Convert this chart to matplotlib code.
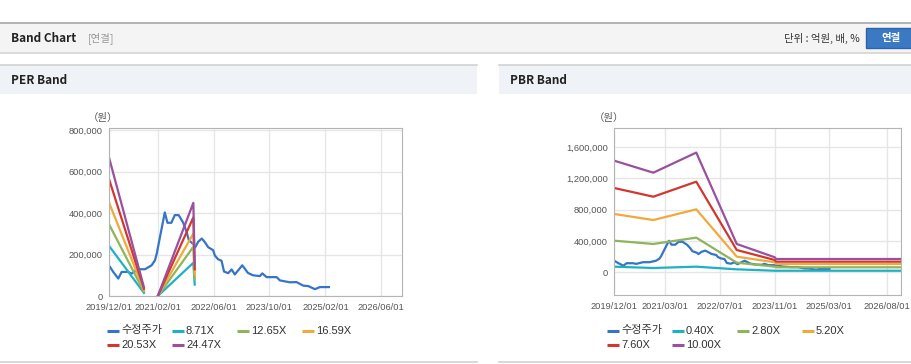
import numpy as np
import pandas as pd
import matplotlib
matplotlib.use("Agg")
import matplotlib.pyplot as plt
from matplotlib.patches import Rectangle

plt.rcParams['font.family'] = ['Liberation Sans', 'Noto Sans CJK KR']

# ---- data ----
price_dates = ['2019-12-10', '2020-01-07', '2020-02-20', '2020-03-20', '2020-05-15',
               '2020-06-15', '2020-08-12', '2020-10-10', '2020-12-07', '2021-01-05',
               '2021-01-21', '2021-02-18', '2021-04-01', '2021-04-24', '2021-05-28',
               '2021-06-27', '2021-07-31', '2021-09-10', '2021-10-08', '2021-10-28',
               '2021-12-06', '2021-12-20', '2022-01-18', '2022-02-18', '2022-03-16',
               '2022-04-15', '2022-05-28', '2022-06-12', '2022-07-10', '2022-08-09',
               '2022-08-31', '2022-10-06', '2022-11-05', '2022-12-03', '2023-02-06',
               '2023-03-28', '2023-05-10', '2023-07-10', '2023-07-31', '2023-09-06',
               '2023-12-03', '2024-01-01', '2024-03-28', '2024-05-25', '2024-07-22',
               '2024-09-03', '2024-11-01', '2024-12-15', '2025-03-03']
price_values = [140000, 116000, 84000, 116000, 116000,
                108000, 129000, 129000, 148000, 172000,
                205000, 285000, 403000, 353000, 353000,
                390000, 390000, 352000, 309000, 269000,
                250000, 233000, 262000, 277000, 260000,
                235000, 221000, 195000, 177000, 170000,
                118000, 110000, 128000, 104000, 148000,
                111000, 100000, 96000, 109000, 91000,
                91000, 75000, 66000, 67000, 50000,
                48000, 33000, 43000, 43000]

per_dates = ['2019-12-01', '2020-10-01', '2020-12-01', '2021-02-01', '2021-12-06', '2021-12-18']
per_band_871 = [242000, 15000, np.nan, 1000, 160000, 55000]
per_band_1265 = [346000, 21000, np.nan, 1500, 237000, 80000]
per_band_1659 = [451000, 28000, np.nan, 2000, 301000, 104000]
per_band_2053 = [564000, 35000, np.nan, 2500, 379000, 129000]
per_band_2447 = [668000, 42000, np.nan, 3000, 449000, 154000]
per_labels = ['8.71X', '12.65X', '16.59X', '20.53X', '24.47X']

pbr_dates = ['2019-12-01', '2020-11-13', '2021-12-01', '2022-11-27', '2023-11-01',
             '2023-11-12', '2026-12-01']
pbr_band_040 = [72000, 55000, 72000, 38000, 20000, 20000, 20000]
pbr_band_280 = [404000, 362000, 443000, 123000, 72000, 64000, 64000]
pbr_band_520 = [745000, 668000, 805000, 200000, 128000, 106000, 106000]
pbr_band_760 = [1077000, 966000, 1158000, 285000, 157000, 136000, 136000]
pbr_band_1000 = [1426000, 1273000, 1530000, 362000, 192000, 170000, 170000]
pbr_labels = ['0.40X', '2.80X', '5.20X', '7.60X', '10.00X']

per_xticks = ['2019/12/01', '2021/02/01', '2022/06/01', '2023/10/01', '2025/02/01', '2026/06/01']
pbr_xticks = ['2019/12/01', '2021/03/01', '2022/07/01', '2023/11/01', '2025/03/01', '2026/08/01']
per_yticks = [0, 200000, 400000, 600000, 800000]
pbr_yticks = [0, 400000, 800000, 1200000, 1600000]

price_color = '#3574c8'
band_colors = ['#1db1c6', '#8db55a', '#f2a93b', '#d2372f', '#9a4f9f']

W, H = 912, 364
fig = plt.figure(figsize=(W / 100, H / 100), dpi=100)

# ---- page decoration (pixel coordinates) ----
bg = fig.add_axes([0, 0, 1, 1], zorder=0)
bg.set_xlim(0, W)
bg.set_ylim(H, 0)
bg.axis('off')

bg.add_patch(Rectangle((0, 22), W, 31, facecolor='#f4f4f4', edgecolor='none'))
bg.plot([0, W], [22.5, 22.5], color='#a8a8a8', lw=1.2)
bg.plot([0, W], [52.5, 52.5], color='#d4d4d4', lw=1.2)
bg.text(11, 38.5, 'Band Chart', fontsize=8.5, fontweight='bold', color='#222',
        va='center', family=['Noto Sans CJK KR'])
bg.text(88, 38.5, '[연결]', fontsize=7.5, color='#999', va='center', family=['Noto Sans CJK KR'])
bg.text(860, 38.5, '단위 : 억원, 배, %', fontsize=7.5, color='#333', va='center', ha='right',
        family=['Noto Sans CJK KR'])
bg.add_patch(Rectangle((866, 28), 50, 20, facecolor='#3b7ac2', edgecolor='#2d64a6', lw=1))
bg.text(891, 38.5, '연결', fontsize=7.5, fontweight='bold', color='white', va='center',
        ha='center', family=['Noto Sans CJK KR'])

for x0, x1, title in [(0, 477, 'PER Band'), (499, W, 'PBR Band')]:
    bg.add_patch(Rectangle((x0, 64.5), x1 - x0, 29, facecolor='#eff2f6', edgecolor='none'))
    bg.plot([x0, x1], [64.5, 64.5], color='#d2d2d2', lw=1.2)
    bg.plot([x0, x1], [362, 362], color='#d2d2d2', lw=1.2)
    bg.text(x0 + 11, 80.5, title, fontsize=8.5, fontweight='bold', color='#222',
            va='center', family=['Noto Sans CJK KR'])


def draw_panel(rect, dates, bands, labels, xticks, yticks, ylim, unit_x, legend_x):
    ax = fig.add_axes(rect, zorder=1)
    ax.plot(pd.to_datetime(price_dates), price_values, color=price_color, lw=1.6)
    d = pd.to_datetime(dates)
    for vals, c in zip(bands, band_colors):
        ax.plot(d, vals, color=c, lw=1.6)
    ax.set_xlim(pd.Timestamp('2019-12-01'), pd.Timestamp('2026-12-01'))
    ax.set_ylim(*ylim)
    ax.set_xticks(pd.to_datetime([t.replace('/', '-') for t in xticks]))
    ax.set_xticklabels(xticks)
    ax.set_yticks(yticks)
    ax.set_yticklabels([f'{v:,}' for v in yticks])
    ax.grid(True, color='#e6e6e6', lw=1)
    ax.set_axisbelow(True)
    for s in ax.spines.values():
        s.set_color('#b4b4b4')
    ax.tick_params(length=0, labelsize=6.7, colors='#555')
    ax.tick_params(axis='x', pad=5)
    ax.tick_params(axis='y', pad=4.5)

    bg.text(unit_x, 118, '（원）', fontsize=7.5, color='#555', va='center', ha='center')
    names = ['수정주가'] + labels
    colors = [price_color] + band_colors
    for i, (n, c) in enumerate(zip(names, colors)):
        x = legend_x + (i % 4) * 65
        y = 330.5 + (i // 4) * 14
        bg.plot([x, x + 12], [y, y], color=c, lw=2.2, solid_capstyle='butt')
        bg.text(x + 14, y, n, fontsize=8, color='#333', va='center')
    return ax


draw_panel([109 / W, 1 - 296 / H, 293 / W, 168 / H], per_dates,
           [per_band_871, per_band_1265, per_band_1659, per_band_2053, per_band_2447],
           per_labels, per_xticks, per_yticks, (0, 810000), 103, 107)
draw_panel([614.3 / W, 1 - 295 / H, 286.7 / W, 167 / H], pbr_dates,
           [pbr_band_040, pbr_band_280, pbr_band_520, pbr_band_760, pbr_band_1000],
           pbr_labels, pbr_xticks, pbr_yticks, (-290000, 1844000), 609, 607)

fig.savefig('out.png', dpi=100)
